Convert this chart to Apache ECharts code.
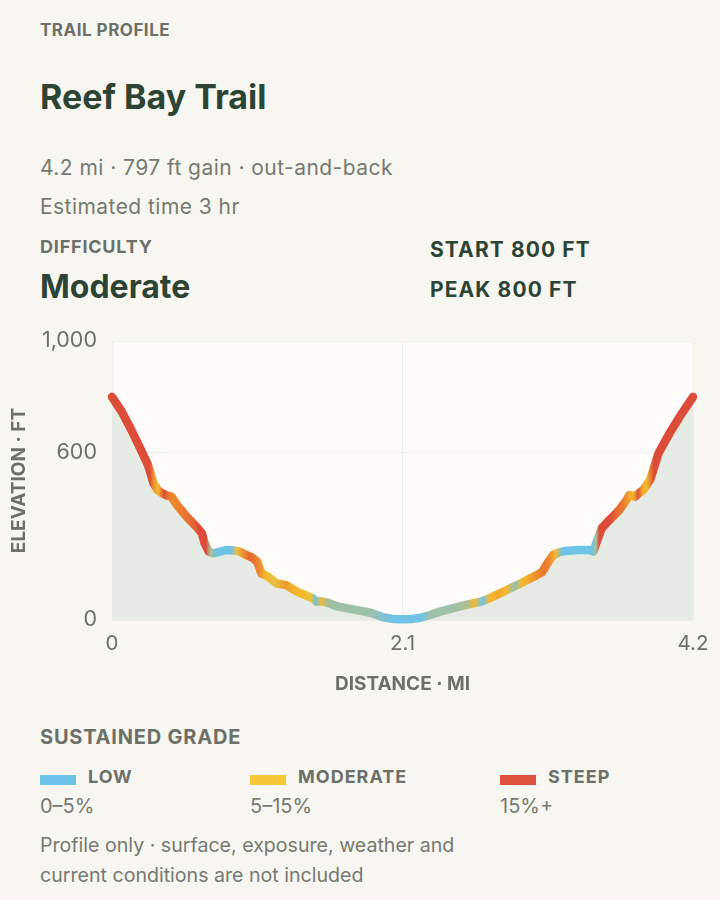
<!DOCTYPE html>
<html>
<head>
<meta charset="utf-8">
<script src="https://cdn.jsdelivr.net/npm/echarts@6/dist/echarts.min.js"></script>
<style>
  html, body { margin:0; padding:0; background:#f7f6f1; }
  body { width:720px; height:900px; position:relative; overflow:hidden; font-family:Inter, "Noto Sans", sans-serif; }
  .t { position:absolute; left:40px; white-space:nowrap; }
  .eyebrow { font-weight:700; color:#6c7068; }
  .dark { color:#2d4435; font-weight:700; }
  .muted { color:#767a72; }
  .sw { position:absolute; width:36px; height:10px; }
  .lg { position:absolute; font-size:18px; font-weight:700; color:#6c7068; letter-spacing:1px; white-space:nowrap; }
  .rg { position:absolute; font-size:20px; color:#767a72; white-space:nowrap; }
  #chart { position:absolute; left:0; top:320px; width:720px; height:390px; }
</style>
</head>
<body>
<div class="t eyebrow" style="top:19px;line-height:22px;font-size:17px;letter-spacing:0.5px;">TRAIL PROFILE</div>
<div class="t dark" style="top:77px;line-height:40px;font-size:34px;">Reef Bay Trail</div>
<div class="t muted" style="top:155px;line-height:26px;font-size:21px;letter-spacing:0.45px;">4.2 mi · 797 ft gain · out-and-back</div>
<div class="t muted" style="top:194px;line-height:26px;font-size:21px;letter-spacing:0.45px;">Estimated time 3 hr</div>
<div class="t eyebrow" style="top:236px;line-height:22px;font-size:18px;letter-spacing:0.8px;">DIFFICULTY</div>
<div class="t dark" style="top:267px;line-height:40px;font-size:32px;">Moderate</div>
<div class="t dark" style="left:430px;top:238px;line-height:24px;font-size:21px;letter-spacing:1.1px;">START 800 FT</div>
<div class="t dark" style="left:430px;top:278px;line-height:24px;font-size:21px;letter-spacing:1.1px;">PEAK 800 FT</div>

<div id="chart"></div>

<div class="t eyebrow" style="top:725px;line-height:24px;font-size:20px;letter-spacing:0.8px;">SUSTAINED GRADE</div>
<div id="legend"></div>
<div class="t muted" style="top:830px;line-height:30px;font-size:19.6px;">Profile only · surface, exposure, weather and<br>current conditions are not included</div>

<script>
// ---- trail profile ----
const distMi = [0.00,0.07,0.14,0.21,0.26,0.30,0.33,0.36,0.40,0.43,0.47,0.54,0.61,0.65,0.67,0.70,0.73,0.78,0.83,0.88,
  0.92,0.97,1.01,1.05,1.08,1.13,1.19,1.26,1.34,1.40,1.45,1.48,1.52,1.56,1.62,1.74,1.87,1.96,2.03,2.10,
  2.17,2.23,2.30,2.37,2.46,2.56,2.61,2.67,2.72,2.78,2.84,2.90,2.95,3.00,3.06,3.11,3.15,3.19,3.24,3.29,
  3.38,3.45,3.48,3.50,3.54,3.58,3.62,3.67,3.72,3.74,3.78,3.81,3.84,3.89,3.95,4.03,4.12,4.20];
const elevFt = [800,747,681,609,556,490,466,455,446,442,412,370,334,311,275,245,239,245,251,249,
  246,233,225,209,167,155,131,125,101,88,78,66,66,62,50,38,26,10,4,3,
  4,8,18,30,42,54,60,66,76,90,104,119,130,143,158,172,205,233,244,248,
  251,251,245,275,329,350,370,396,430,448,442,455,466,502,597,669,741,800];
// sustained grade (%) at each point
const gradePct = [18,18,18,18,18,17,11,9,16,13,12,13,14,17,17,16,6,2,2,2,
  8,12,14,13,12,9,8,11,9,9,8,2,9,6,5.5,5.5,5.5,4,2,2,
  2,2,5.5,5.5,5.5,6,9,2,9,10,9,5,9,10,12,13,12,9,3,2,
  2,2,6,17,17,16,14,13,10,9,15,10,9,16,18,18,18,18];

const xTicks = [0, 2.1, 4.2];
const yTicks = [0, 600, 1000];

const gradeNames = ['LOW', 'MODERATE', 'STEEP'];
const gradeRanges = ['0–5%', '5–15%', '15%+'];
const gradeSwatch = ['#6cc3ea', '#f5c83a', '#dd523d'];

// colour ramp: grade % -> colour
const ramp = [[0,'#6ec3e6'],[3,'#6ec3e6'],[5.5,'#9ebfa8'],[8.5,'#f4c12f'],[12,'#ef8a2d'],[15.5,'#dd4b39']];
function hex2rgb(h){ return [1,3,5].map(i => parseInt(h.substr(i,2),16)); }
function gradeColor(g){
    if(g <= ramp[0][0]) return ramp[0][1];
    for(let i=1;i<ramp.length;i++){
        if(g <= ramp[i][0]){
            const [g0,c0] = ramp[i-1], [g1,c1] = ramp[i];
            const t = (g-g0)/(g1-g0), a = hex2rgb(c0), b = hex2rgb(c1);
            return 'rgb(' + a.map((v,k)=>Math.round(v+(b[k]-v)*t)).join(',') + ')';
        }
    }
    return ramp[ramp.length-1][1];
}

// legend
const lg = document.getElementById('legend');
const lgX = [40, 250, 500];
lg.innerHTML = gradeNames.map((n,i) =>
    `<div class="sw" style="left:${lgX[i]}px;top:775px;background:${gradeSwatch[i]};"></div>` +
    `<div class="lg" style="left:${lgX[i]+48}px;top:765px;line-height:24px;">${n}</div>` +
    `<div class="rg" style="left:${lgX[i]}px;top:794px;line-height:24px;">${gradeRanges[i]}</div>`
).join('');

const xMax = distMi[distMi.length-1];
const lineGrad = new echarts.graphic.LinearGradient(0,0,1,0,
    distMi.map((d,i) => ({ offset: d / xMax, color: gradeColor(gradePct[i]) })));

const chart = echarts.init(document.getElementById('chart'), null, { renderer: 'canvas' });
chart.setOption({
    animation: false,
    textStyle: { fontFamily: 'Inter' },
    grid: { left:112, right:27, top:21, bottom:90, show:true, backgroundColor:'#fdfcfa', borderWidth:0,
        containLabel:false, outerBoundsMode:'none' },
    xAxis: {
        type:'value', min:0, max:4.2, interval:2.1,
        name:'DISTANCE · MI', nameLocation:'middle', nameGap:55,
        nameTextStyle:{ fontSize:19, fontWeight:700, color:'#6c7068' },
        axisLine:{show:false}, axisTick:{show:false},
        axisLabel:{ fontSize:20.5, color:'#6c7068', margin:13, formatter: v => String(+v.toFixed(1)) },
        splitLine:{ show:true, lineStyle:{ color:'#efede8', width:1 } }
    },
    yAxis: {
        type:'value', min:0, max:1000,
        name:'ELEVATION · FT', nameLocation:'middle', nameGap:83, nameRotate:90,
        nameTextStyle:{ fontSize:19, fontWeight:700, color:'#6c7068' },
        axisLine:{show:false},
        axisTick:{ show:false, customValues:yTicks },
        axisLabel:{ fontSize:21.5, color:'#6c7068', margin:15, customValues:yTicks,
            formatter: v => v.toLocaleString('en-US') },
        splitLine:{ show:true, lineStyle:{ color:'#efede8', width:1 } }
    },
    series: [{
        type:'line',
        data: distMi.map((d,i) => [d, elevFt[i]]),
        showSymbol:false,
        smooth:false,
        lineStyle:{ width:8.5, color: lineGrad, cap:'round', join:'round' },
        areaStyle:{ color:'#e6ece5', opacity:1 },
        z:3
    }]
});
</script>
</body>
</html>
